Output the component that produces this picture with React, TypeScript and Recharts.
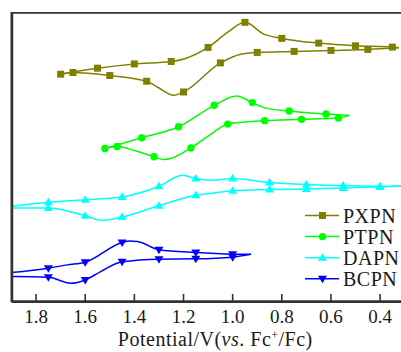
import { ScatterChart, Scatter, XAxis, YAxis } from "recharts";

// cyclic voltammograms: [potential (V vs Fc+/Fc), current (a.u., traces offset)]
// each loop is split in two branches, both listed from high to low potential
const pxpnUpper: [number, number][] = [
  [1.7, 227], [1.55, 233], [1.4, 237.3], [1.25, 239.7], [1.195, 242.5], [1.1, 253.7],
  [1.02, 269], [0.95, 278.7], [0.873, 267], [0.8, 262.7], [0.65, 258], [0.5, 255.3],
  [0.35, 254], [0.324, 253.3],
];
const pxpnLower: [number, number][] = [
  [1.7, 227], [1.65, 228.7], [1.5, 225.7], [1.35, 220], [1.305, 214], [1.24, 206],
  [1.2, 209.3], [1.05, 238.3], [0.967, 247], [0.9, 248.7], [0.75, 249.7], [0.6, 250.7],
  [0.45, 251.7], [0.324, 253.3],
];
const pxpnMarks: [number, number][] = [
  [1.7, 227], [1.55, 233], [1.4, 237.3], [1.25, 239.7], [1.1, 253.7], [0.95, 278.7],
  [0.8, 262.7], [0.65, 258], [0.5, 255.3], [0.35, 254],
  [0.45, 251.7], [0.6, 250.7], [0.75, 249.7], [0.9, 248.7], [1.05, 238.3], [1.2, 209.3],
  [1.35, 220], [1.5, 225.7], [1.65, 228.7],
];

const ptpnUpper: [number, number][] = [
  [1.52, 153], [1.37, 163.7], [1.22, 174.7], [1.075, 196], [0.985, 205.3], [0.92, 198.7],
  [0.873, 193.7], [0.77, 190.3], [0.62, 187.3], [0.526, 186],
];
const ptpnLower: [number, number][] = [
  [1.52, 153], [1.47, 155], [1.4, 151], [1.32, 144.7], [1.28, 142], [1.17, 153.5],
  [1.1, 165.3], [1.02, 177.3], [0.95, 179.5], [0.87, 180.7], [0.72, 182], [0.57, 183.3],
  [0.526, 186],
];
const ptpnMarks: [number, number][] = [
  [1.52, 153], [1.37, 163.7], [1.22, 174.7], [1.075, 196], [0.92, 198.7], [0.77, 190.3],
  [0.62, 187.3], [0.57, 183.3], [0.72, 182], [0.87, 180.7], [1.02, 177.3], [1.17, 153.5],
  [1.32, 144.7], [1.47, 155],
];

const dapnUpper: [number, number][] = [
  [1.9, 95.3], [1.75, 99.3], [1.6, 102], [1.45, 104.7], [1.3, 115.3], [1.204, 126.3],
  [1.15, 123], [1.09, 121.3], [1.0, 123], [0.85, 119], [0.7, 117], [0.55, 116],
  [0.4, 115.3], [0.315, 115.5],
];
const dapnLower: [number, number][] = [
  [1.9, 93.7], [1.75, 93.7], [1.6, 86], [1.53, 81.3], [1.45, 84.7], [1.3, 96],
  [1.15, 106.3], [1.075, 108.7], [1.0, 110.8], [0.85, 112], [0.7, 112.7], [0.55, 113.7],
  [0.4, 114.7], [0.315, 115.5],
];
const dapnMarks: [number, number][] = [
  [1.75, 99.3], [1.6, 102], [1.45, 104.7], [1.3, 115.3], [1.15, 123], [1.0, 123],
  [0.85, 119], [0.7, 117], [0.55, 116], [0.4, 115.3],
  [1.75, 93.7], [1.6, 86], [1.45, 84.7], [1.3, 96], [1.15, 106.3], [1.0, 110.8],
  [0.85, 112], [0.7, 112.7], [0.55, 113.7], [0.4, 114.7],
];

const bcpnUpper: [number, number][] = [
  [1.9, 29.3], [1.75, 33.7], [1.672, 37], [1.6, 39.7], [1.45, 59.3], [1.42, 60.8],
  [1.387, 60.3], [1.3, 52], [1.15, 49.3], [1.0, 47.7], [0.926, 47.5],
];
const bcpnLower: [number, number][] = [
  [1.9, 25.3], [1.75, 24.7], [1.659, 18.7], [1.6, 22], [1.537, 30.3], [1.45, 40],
  [1.3, 42.7], [1.15, 43], [1.0, 44.7], [0.926, 47.5],
];
const bcpnMarks: [number, number][] = [
  [1.75, 33.7], [1.6, 39.7], [1.45, 59.3], [1.3, 52], [1.15, 49.3], [1.0, 47.7],
  [1.75, 24.7], [1.6, 22], [1.45, 40], [1.3, 42.7], [1.15, 43], [1.0, 44.7],
];

const potentialTicks = [1.8, 1.6, 1.4, 1.2, 1.0, 0.8, 0.6, 0.4];

// plot box corners (x domain ends, y domain ends): open on the right like the original
const V_MIN = 0.315;
const V_MAX = 1.9;
const I_MIN = 0;
const I_MAX = 289;

const FONT = "'Liberation Serif', 'Times New Roman', Times, serif";
const TEXT = "#1a1a1a";
const FRAME = "#333333";

type MarkKind = "square" | "circle" | "up" | "down";

const series: {
  name: string;
  color: string;
  mark: MarkKind;
  upper: [number, number][];
  lower: [number, number][];
  marks: [number, number][];
}[] = [
  { name: "PXPN", color: "#808000", mark: "square", upper: pxpnUpper, lower: pxpnLower, marks: pxpnMarks },
  { name: "PTPN", color: "#00ff00", mark: "circle", upper: ptpnUpper, lower: ptpnLower, marks: ptpnMarks },
  { name: "DAPN", color: "#00ffff", mark: "up", upper: dapnUpper, lower: dapnLower, marks: dapnMarks },
  { name: "BCPN", color: "#0000ff", mark: "down", upper: bcpnUpper, lower: bcpnLower, marks: bcpnMarks },
];

const toPts = (arr: [number, number][]) => arr.map(([v, i]) => ({ v, i }));

const framePts = toPts([
  [V_MIN - 0.05, I_MAX],
  [V_MAX, I_MAX],
  [V_MAX, I_MIN],
  [V_MIN - 0.05, I_MIN],
]);
const tickPts = potentialTicks.map((v) => ({ v, i: I_MIN }));

function Marker({ kind, x, y, color }: { kind: MarkKind; x: number; y: number; color: string }) {
  if (kind === "square") return <rect x={x - 3.5} y={y - 3.5} width={7} height={7} fill={color} />;
  if (kind === "circle") return <circle cx={x} cy={y} r={3.7} fill={color} />;
  if (kind === "up")
    return <polygon points={`${x},${y - 4.5} ${x + 4.5},${y + 3} ${x - 4.5},${y + 3}`} fill={color} />;
  return <polygon points={`${x},${y + 4.5} ${x + 4.5},${y - 3} ${x - 4.5},${y - 3}`} fill={color} />;
}

function PotentialTick(props: any) {
  const { x, y, payload } = props;
  return (
    <text x={x} y={y + 21} textAnchor="middle" style={{ fontFamily: FONT, fontSize: 19 }} fill={TEXT}>
      {payload.value.toFixed(1)}
    </text>
  );
}

// inward tick mark, drawn at each tick position on the bottom edge
const TickMark = (p: any) => (
  <polygon
    points={`${p.cx - 0.8},${p.cy} ${p.cx + 0.8},${p.cy} ${p.cx + 0.8},${p.cy - 8} ${p.cx - 0.8},${p.cy - 8}`}
    fill={FRAME}
  />
);

const noDot = () => <g />;

export default function App() {
  return (
    <div style={{ position: "absolute", left: 0, top: 0, width: 401, height: 352, background: "#fff" }}>
      <ScatterChart width={401} height={352} margin={{ top: 12, right: 0, bottom: 0, left: 10.5 }}>
        <XAxis
          type="number"
          dataKey="v"
          domain={[V_MIN, V_MAX]}
          reversed
          allowDataOverflow
          ticks={potentialTicks}
          interval={0}
          height={50}
          tickSize={0}
          tickMargin={0}
          tickLine={false}
          tick={<PotentialTick />}
          axisLine={{ stroke: FRAME, strokeWidth: 2 }}
        />
        <YAxis
          type="number"
          dataKey="i"
          domain={[I_MIN, I_MAX]}
          allowDataOverflow
          width={1}
          tick={false}
          tickLine={false}
          axisLine={{ stroke: FRAME, strokeWidth: 2 }}
        />
        {series.map((s) => [
          <Scatter
            key={s.name + "-u"}
            data={toPts(s.upper)}
            line={{ stroke: s.color, strokeWidth: 1.5 }}
            lineJointType="monotone"
            shape={noDot}
            isAnimationActive={false}
          />,
          <Scatter
            key={s.name + "-l"}
            data={toPts(s.lower)}
            line={{ stroke: s.color, strokeWidth: 1.5 }}
            lineJointType="monotone"
            shape={noDot}
            isAnimationActive={false}
          />,
          <Scatter
            key={s.name + "-m"}
            data={toPts(s.marks)}
            shape={(p: any) => <Marker kind={s.mark} x={p.cx} y={p.cy} color={s.color} />}
            isAnimationActive={false}
          />,
        ])}
        {/* plot frame: top, left and bottom edges */}
        <Scatter
          data={framePts}
          line={{ stroke: FRAME, strokeWidth: 3.5 }}
          lineJointType="linear"
          shape={noDot}
          isAnimationActive={false}
        />
        <Scatter data={tickPts} shape={TickMark} isAnimationActive={false} />
      </ScatterChart>

      {/* legend */}
      <svg style={{ position: "absolute", left: 300, top: 205 }} width={101} height={86}>
        {series.map((s, k) => {
          const cy = 10.5 + k * 21.1;
          return (
            <g key={s.name}>
              <line x1={5} x2={39} y1={cy} y2={cy} stroke={s.color} strokeWidth={1.5} />
              <Marker kind={s.mark} x={22.5} y={cy} color={s.color} />
              <text x={43} y={cy + 7} style={{ fontFamily: FONT, fontSize: 20, letterSpacing: 0.5 }} fill={TEXT}>
                {s.name}
              </text>
            </g>
          );
        })}
      </svg>

      {/* axis title */}
      <svg style={{ position: "absolute", left: 0, top: 322 }} width={401} height={30}>
        <text
          x={215.3}
          y={23.7}
          textAnchor="middle"
          style={{ fontFamily: FONT, fontSize: 20, letterSpacing: 0.5 }}
          fill={TEXT}
        >
          Potential/V(<tspan fontStyle="italic">vs</tspan>. Fc
          <tspan fontSize={12} dy={-7}>
            +
          </tspan>
          <tspan dy={7}>/Fc)</tspan>
        </text>
      </svg>
    </div>
  );
}
